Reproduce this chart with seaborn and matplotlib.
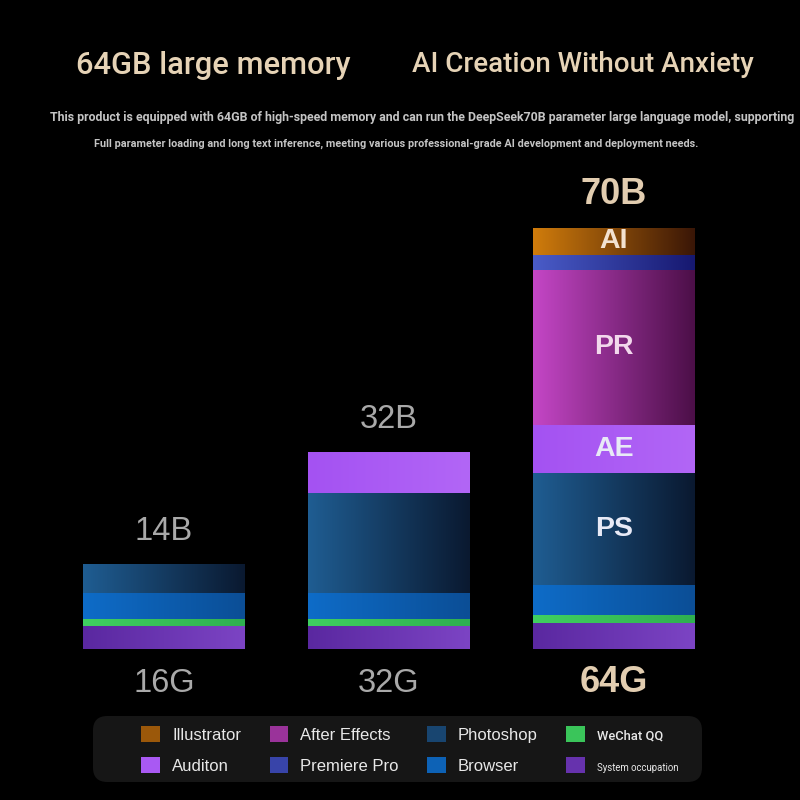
import numpy as np
import pandas as pd
import matplotlib
matplotlib.use("Agg")
import matplotlib.pyplot as plt
from matplotlib.colors import to_rgb
from matplotlib.patches import Patch, FancyBboxPatch
import seaborn as sns

# ---- data ----
bar_names = ["16G", "32G", "64G"]
model_labels = ["14B", "32B", "70B"]
# stack order, bottom -> top
apps = ["System occupation", "WeChat QQ", "Browser", "Photoshop",
        "Auditon", "After Effects", "Premiere Pro", "Illustrator"]
mem_16 = [23, 7, 26, 29, 0, 0, 0, 0]
mem_32 = [23, 7, 26, 100, 41, 0, 0, 0]
mem_64 = [26, 8, 30, 112, 48, 155, 15, 27]
seg_labels_64 = {"Photoshop": "PS", "Auditon": "AE", "After Effects": "PR", "Illustrator": "AI"}
legend_order = ["Illustrator", "Auditon", "After Effects", "Premiere Pro",
                "Photoshop", "Browser", "WeChat QQ", "System occupation"]

title_left = "64GB large memory"
title_right = "AI Creation Without Anxiety"
sub_1 = ("This product is equipped with 64GB of high-speed memory and can run the DeepSeek70B "
         "parameter large language model, supporting")
sub_2 = ("Full parameter loading and long text inference, meeting various professional-grade AI "
         "development and deployment needs.")

# left -> right gradient colours
grad = {
    "System occupation": ("#5a28a0", "#7c44c4"),
    "WeChat QQ": ("#40d060", "#2fb050"),
    "Browser": ("#0e6cc8", "#0b4e96"),
    "Photoshop": ("#1f5d92", "#0a1930"),
    "Auditon": ("#a452f2", "#b266f6"),
    "After Effects": ("#c446c6", "#4c0f48"),
    "Premiere Pro": ("#4a5cc8", "#161870"),
    "Illustrator": ("#d07c0c", "#3a1606"),
}

df = pd.DataFrame({"16G": mem_16, "32G": mem_32, "64G": mem_64}, index=apps)
cum = df.cumsum()

sns.set_style("dark")
plt.rcParams["font.family"] = ["Liberation Sans", "DejaVu Sans"]
narrow = ["Roboto", "DejaVu Sans"]

fig = plt.figure(figsize=(8, 8), dpi=100, facecolor="black")
ax = fig.add_axes([29 / 800, 91 / 800, 720 / 800, 560 / 800])
ax.set_facecolor("black")

z = 2
for app in reversed(apps):
    n0 = len(ax.patches)
    sns.barplot(x=bar_names, y=cum.loc[app].values, order=bar_names, width=0.716,
                color=grad[app][0], ax=ax)
    c0, c1 = np.array(to_rgb(grad[app][0])), np.array(to_rgb(grad[app][1]))
    t = np.linspace(0, 1, 128)[:, None]
    g = (c0 * (1 - t) + c1 * t)[None, :, :]
    for p in ax.patches[n0:]:
        p.set_alpha(0)
        x0, y0, w, h = p.get_x(), p.get_y(), p.get_width(), p.get_height()
        if h <= 0:
            continue
        ax.imshow(g, extent=(x0, x0 + w, y0, y0 + h), aspect="auto",
                  interpolation="bilinear", zorder=z)
    z += 1

totals = df.sum().values
beige = "#e2cdb0"
grey = "#a9a9a9"
for i, name in enumerate(bar_names):
    big = i == 2
    ax.text(i, totals[i] + 33, model_labels[i], ha="center", va="center",
            fontsize=26 if big else 23.5, color=beige if big else grey,
            fontweight="bold" if big else "normal", zorder=50)
    ax.text(i, -34, name, ha="center", va="center", fontsize=26 if big else 23.5,
            color=beige if big else grey, fontweight="bold" if big else "normal", zorder=50)

prev = cum.shift(fill_value=0)["64G"]
for app, lab in seg_labels_64.items():
    yc = prev[app] + df.loc[app, "64G"] / 2
    col = "#f2d8ec" if app == "After Effects" else ("#f3e2d0" if app == "Illustrator" else "#e8eaf6")
    ax.text(2, yc, lab, ha="center", va="center", fontsize=20.5, fontweight="bold",
            color=col, zorder=50)

ax.set_xlim(-0.6, 2.6)
ax.set_ylim(-60, 500)
ax.axis("off")

# titles
heads = [
    fig.text(213 / 800, 1 - 66 / 800, title_left, ha="center", va="center",
             fontsize=28, color="#e6d3b6", family=narrow, fontweight="medium"),
    fig.text(583 / 800, 1 - 64 / 800, title_right, ha="center", va="center",
             fontsize=28, color="#e6d3b6", family=narrow, fontweight="medium"),
    fig.text(422 / 800, 1 - 117 / 800, sub_1, ha="center", va="center",
             fontsize=10, color="#c4c4c4", family=narrow, fontweight="bold"),
    fig.text(396 / 800, 1 - 144 / 800, sub_2, ha="center", va="center",
             fontsize=10, color="#c4c4c4", family=narrow, fontweight="bold"),
]
head_widths = [274, 341, 750, 603]

# legend box
fig.patches.append(FancyBboxPatch((93 / 800, 18 / 800), 609 / 800, 66 / 800,
                                  boxstyle="round,pad=0,rounding_size=0.018",
                                  transform=fig.transFigure, facecolor="#161616",
                                  edgecolor="none", zorder=0))
handles = []
for app in legend_order:
    c0, c1 = np.array(to_rgb(grad[app][0])), np.array(to_rgb(grad[app][1]))
    handles.append(Patch(facecolor=c0 * 0.65 + c1 * 0.35, edgecolor="none"))
leg = fig.legend(handles, legend_order, ncol=4, loc="center",
                 bbox_to_anchor=(410 / 800, 1 - 750 / 800), frameon=False,
                 fontsize=12, labelcolor="#e8e8e8", handlelength=1.1, handleheight=1.1,
                 handletextpad=0.75, columnspacing=1.7, labelspacing=0.85)
fit = []
for txt in leg.get_texts():
    if txt.get_text() == "WeChat QQ":
        txt.set_family(narrow)
        txt.set_fontweight("medium")
        fit.append((txt, 66))
    if txt.get_text() == "System occupation":
        txt.set_family(narrow)
        fit.append((txt, 82))

# shrink/grow the condensed-looking texts to the widths seen in the picture
r = fig.canvas.get_renderer()
for txt, wpx in list(zip(heads, head_widths)) + fit:
    w = txt.get_window_extent(r).width
    txt.set_fontsize(txt.get_fontsize() * wpx / w)

fig.savefig("out.png", dpi=100, facecolor="black")
